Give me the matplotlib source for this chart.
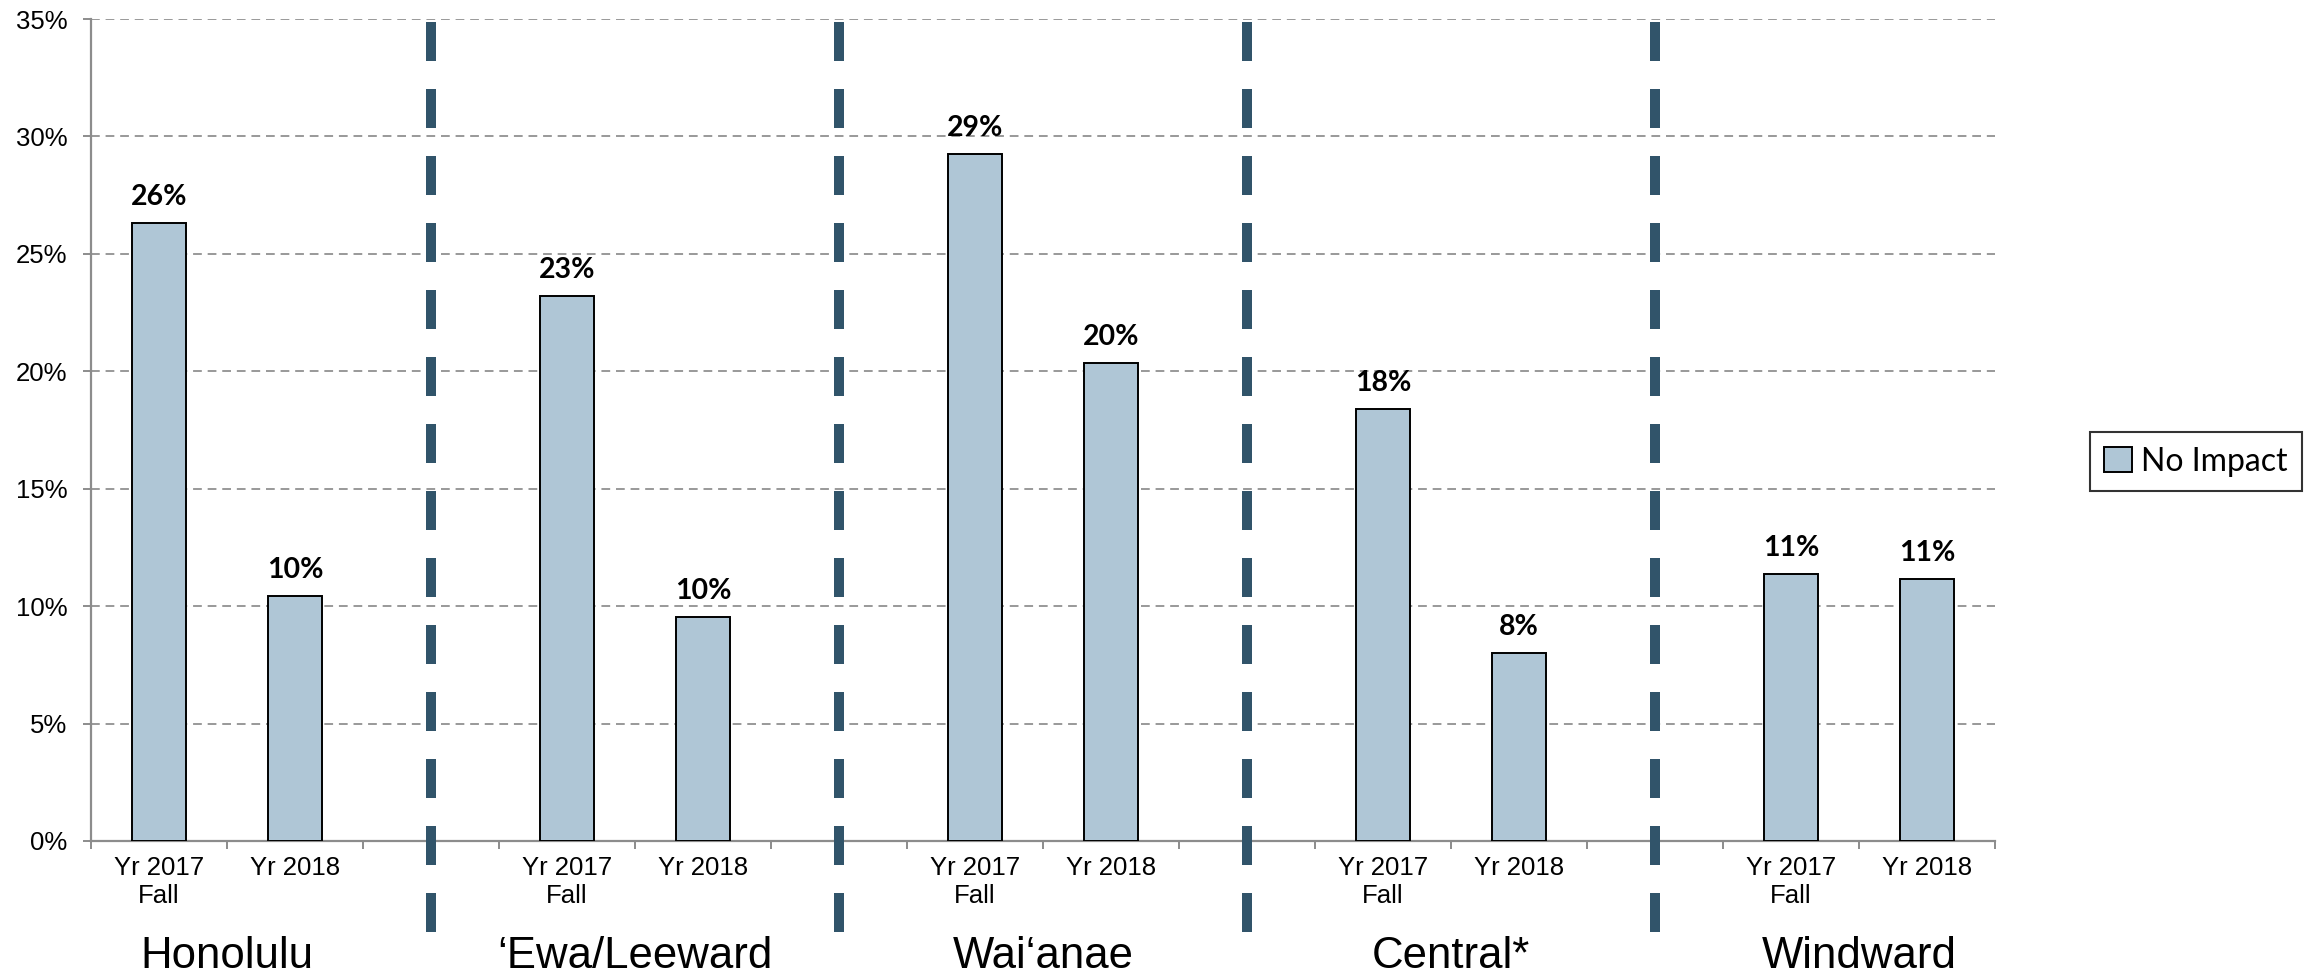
import numpy as np
import matplotlib
matplotlib.use('Agg')
import matplotlib.pyplot as plt

regions = ['Honolulu', '\u2018Ewa/Leeward', 'Wai\u2018anae', 'Central*', 'Windward']
periods = ['Yr 2017\nFall', 'Yr 2018']
fall_2017 = [26.3, 23.2, 29.25, 18.4, 11.35]
yr_2018 = [10.45, 9.55, 20.35, 8.0, 11.15]
series_name = 'No Impact'

bar_color = '#AFC6D6'
sep_color = '#31546A'
grid_color = '#999999'
axis_color = '#8C8C8C'

fig = plt.figure(figsize=(23.18, 9.74), dpi=100)
ax = fig.add_axes([91/2318, 133/974, (1995-91)/2318, (841-19)/974])

# two bars per region, one blank slot between regions for the separator
pos = []
vals = []
for i in range(len(regions)):
    pos += [3*i, 3*i + 1]
    vals += [fall_2017[i], yr_2018[i]]
pos = np.array(pos)
vals = np.array(vals)

bars = ax.bar(pos, vals, width=0.4, color=bar_color, edgecolor='black',
              linewidth=1.4, zorder=3, label=series_name)

for x, v in zip(pos, vals):
    ax.annotate(f'{v:.0f}%', (x, v), xytext=(0, 13), textcoords='offset points',
                ha='center', va='baseline', fontsize=20.5, fontweight='bold',
                family='Lato', zorder=4)

ax.set_xlim(-0.5, 13.5)
ax.set_ylim(0, 35)
ax.set_yticks(np.arange(0, 36, 5))
ax.set_yticklabels([f'{t}%' for t in range(0, 36, 5)], family='Liberation Sans', fontsize=18.5)
ax.yaxis.grid(True, linestyle=(0, (4.5, 3)), color=grid_color, linewidth=1.4, zorder=0)

# tick marks on slot borders, labels under bars
ax.set_xticks(np.arange(-0.5, 13.6, 1))
ax.set_xticklabels([])
ax.set_xticks(pos, minor=True)
ax.set_xticklabels(periods * len(regions), minor=True, family='Liberation Sans',
                   fontsize=18.5, linespacing=1.2)
ax.tick_params(axis='x', which='minor', length=0, pad=11)
ax.tick_params(axis='both', which='major', length=6, width=1.4, color=axis_color,
               direction='out')
ax.tick_params(axis='y', pad=11)

for s in ['top', 'right']:
    ax.spines[s].set_visible(False)
for s in ['left', 'bottom']:
    ax.spines[s].set_color(axis_color)
    ax.spines[s].set_linewidth(1.6)

trans = ax.get_xaxis_transform()
for i in range(len(regions)):
    ax.text(3*i + 0.5, -0.1545, regions[i], transform=trans, ha='center',
            va='baseline', fontsize=31.5, family='Liberation Sans')
    if i < len(regions) - 1:
        ax.plot([3*i + 2, 3*i + 2], [0.9964, -0.121], transform=trans,
                color=sep_color, linewidth=7.2, dashes=(3.9, 2.8),
                solid_capstyle='butt', dash_capstyle='butt', clip_on=False, zorder=5)

leg = ax.legend(loc='center left', bbox_to_anchor=(2090/2318, 0.526),
                bbox_transform=fig.transFigure, frameon=True, fancybox=False,
                prop={'family': 'Lato', 'size': 23}, handlelength=0.85,
                handleheight=0.85, handletextpad=0.3, borderpad=0.45,
                borderaxespad=0)
leg.get_frame().set_edgecolor('black')
leg.get_frame().set_linewidth(1.5)

fig.savefig('out.png', dpi=100)
